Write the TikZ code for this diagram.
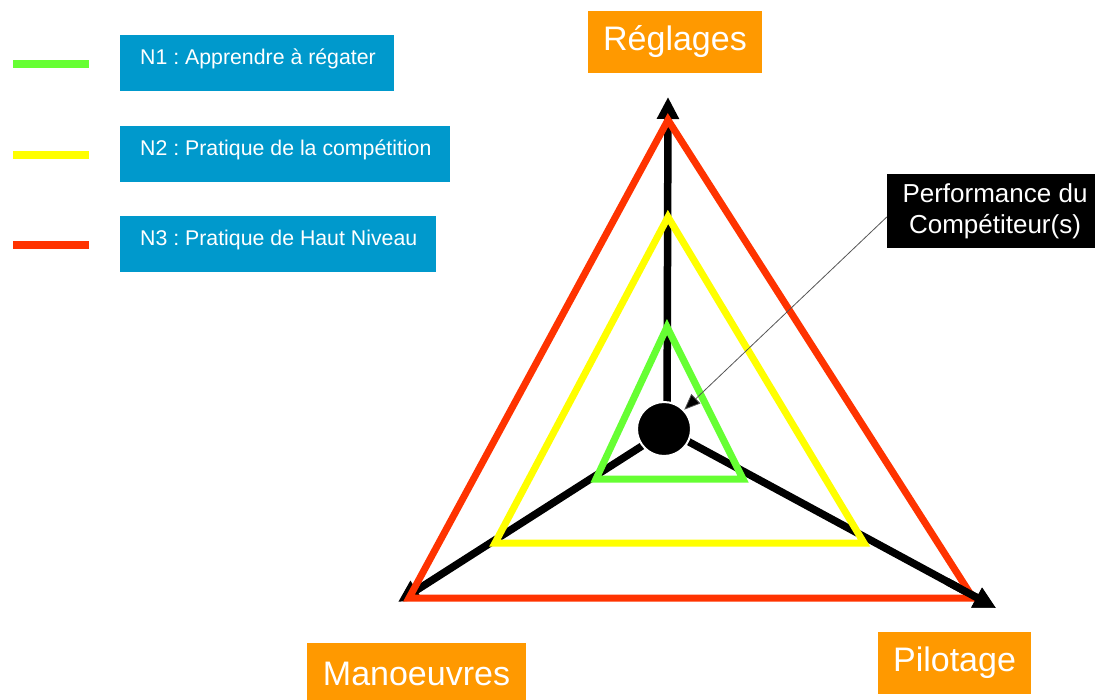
\documentclass[tikz,border=0pt]{standalone}
\usepackage{fontspec}
\setmainfont{Liberation Sans}
\usetikzlibrary{arrows.meta,calc}
\frenchspacing
\definecolor{rougeN}{HTML}{FF3300}
\definecolor{jauneN}{HTML}{FFFF00}
\definecolor{vertN}{HTML}{66FF33}
\definecolor{bleuN}{HTML}{0099CC}
\definecolor{orangeN}{HTML}{FF9900}
\definecolor{grisN}{HTML}{555555}
\begin{document}
\begin{tikzpicture}[x=1pt,y=-1pt,
  axisline/.style={line width=7.5pt,draw=black,-{Triangle[length=22pt,width=21pt]}},
  tri/.style={line width=7pt,line join=miter},
  legline/.style={line width=7.5pt},
  legbox/.style={fill=bleuN,text=white,anchor=north west,inner xsep=0pt,inner ysep=13pt,
     text height=16pt,text depth=14pt,font=\fontsize{21.3}{24}\selectfont},
  axlabel/.style={fill=orangeN,text=white,font=\fontsize{34}{40}\selectfont,
     minimum height=62pt,inner sep=0pt},
  perfbox/.style={fill=black,text=white,font=\fontsize{26}{31}\selectfont,align=center,
     minimum width=216pt,minimum height=74pt,inner sep=0pt},
  pointer/.style={draw=grisN,line width=0.8pt,-{Triangle[length=16pt,width=13pt,fill=black]}}
]
\useasboundingbox (0,0) rectangle (1095,700);

% legend
\draw[legline,vertN] (13,64) -- (89,64);
\draw[legline,jauneN] (13,155) -- (89,155);
\draw[legline,rougeN] (13,245) -- (89,245);
\node[legbox] (n1) at (120,35) {\makebox[274pt][l]{\hspace{20pt}N1 : Apprendre à régater}};
\node[legbox] (n2) at (120,126) {\makebox[330pt][l]{\hspace{20pt}N2 : Pratique de la compétition}};
\node[legbox] (n3) at (120,216) {\makebox[316pt][l]{\hspace{20pt}N3 : Pratique de Haut Niveau}};

% axis labels
\node[axlabel,minimum width=174pt] (regl) at (675,42) {Réglages};
\node[axlabel,minimum width=219pt] (manoe) at (416.5,674) {Manoeuvres};
\node[axlabel,minimum width=153pt] (pilot) at (954.5,663) {Pilotage};

% axes
\coordinate (o) at (667,430);
\coordinate (tT) at (668,97);
\coordinate (tL) at (398,602);
\coordinate (tR) at (996,608);
\draw[axisline] (o) -- (tT);
\draw[axisline] (o) -- (tL);
\draw[axisline] (o) -- (tR);

% triangles
\coordinate (rT) at (668,120);
\coordinate (rL) at (409,598);
\coordinate (rR) at (973,598);
\coordinate (yT) at (668,217);
\coordinate (yL) at (495,543);
\coordinate (yR) at (864,543);
\coordinate (gT) at (667,327);
\coordinate (gL) at (596,479);
\coordinate (gR) at (743,479);
\draw[tri,rougeN] (rT) -- (rL) -- (rR) -- cycle;
\draw[tri,jauneN] (yT) -- (yL) -- (yR) -- cycle;
\draw[tri,vertN] (gT) -- (gL) -- (gR) -- cycle;
\draw[axisline] ($(o)!0.85!(tR)$) -- (tR);

% centre
\node[circle,fill=black,draw=white,line width=2pt,minimum size=54pt,inner sep=0pt] (c) at (664,429) {};

% performance box
\node[perfbox] (perf) at (995,211) {Performance du\\Compétiteur(s)};
\draw[pointer] ([yshift=-6pt]perf.west) -- (c);
\end{tikzpicture}
\end{document}
